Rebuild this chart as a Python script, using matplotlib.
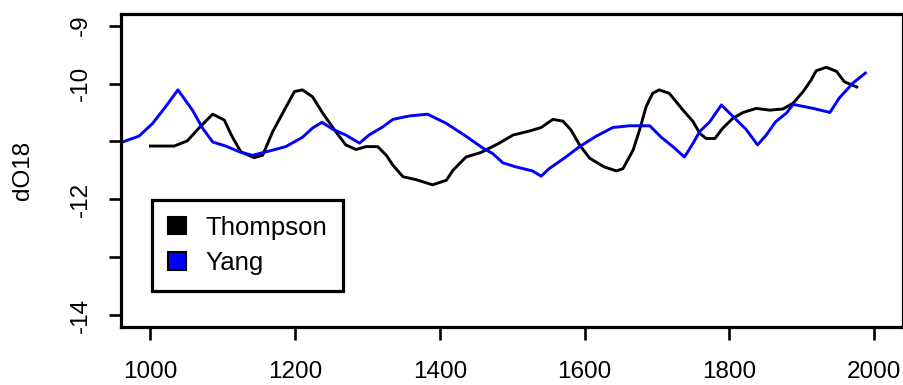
import matplotlib.pyplot as plt
from matplotlib.patches import Patch

plt.rcParams['font.family'] = ['Liberation Sans', 'DejaVu Sans']

# Thompson record (years, dO18)
thompson_years = [1000, 1033, 1051, 1067, 1086, 1102, 1113, 1125, 1143, 1155, 1169, 1185,
                  1199, 1210, 1224, 1238, 1256, 1270, 1284, 1298, 1314, 1326, 1335, 1349,
                  1367, 1390, 1409, 1418, 1436, 1457, 1482, 1501, 1524, 1540, 1556, 1570,
                  1581, 1593, 1607, 1627, 1644, 1653, 1667, 1676, 1685, 1694, 1703, 1717,
                  1736, 1750, 1759, 1768, 1780, 1791, 1805, 1819, 1837, 1856, 1874, 1888,
                  1902, 1913, 1920, 1934, 1948, 1959, 1976]
thompson_d18o = [-11.08, -11.08, -10.99, -10.77, -10.53, -10.63, -10.92, -11.18, -11.28, -11.24,
                 -10.83, -10.46, -10.14, -10.11, -10.23, -10.51, -10.83, -11.06, -11.14, -11.09,
                 -11.09, -11.24, -11.41, -11.61, -11.66, -11.75, -11.67, -11.50, -11.27, -11.19,
                 -11.03, -10.89, -10.82, -10.76, -10.62, -10.65, -10.80, -11.06, -11.29, -11.44,
                 -11.51, -11.47, -11.15, -10.80, -10.40, -10.17, -10.11, -10.17, -10.46, -10.66,
                 -10.86, -10.95, -10.95, -10.77, -10.60, -10.50, -10.43, -10.46, -10.44, -10.34,
                 -10.14, -9.94, -9.78, -9.72, -9.79, -9.97, -10.06]

# Yang record
yang_years = [959, 984, 1003, 1021, 1038, 1058, 1072, 1086, 1104, 1123, 1141, 1160, 1187,
              1210, 1224, 1237, 1252, 1270, 1289, 1302, 1321, 1335, 1358, 1383, 1409, 1436,
              1460, 1473, 1487, 1505, 1528, 1540, 1551, 1574, 1593, 1616, 1639, 1662, 1690,
              1706, 1722, 1738, 1750, 1759, 1773, 1789, 1805, 1823, 1839, 1851, 1864, 1879,
              1888, 1916, 1939, 1952, 1971, 1988]
yang_d18o = [-11.02, -10.91, -10.69, -10.40, -10.11, -10.46, -10.77, -11.01, -11.08, -11.18,
             -11.24, -11.18, -11.09, -10.93, -10.77, -10.67, -10.79, -10.89, -11.03, -10.89,
             -10.75, -10.62, -10.56, -10.53, -10.69, -10.91, -11.12, -11.21, -11.37, -11.44,
             -11.51, -11.60, -11.47, -11.27, -11.09, -10.91, -10.76, -10.73, -10.73, -10.93,
             -11.09, -11.27, -11.03, -10.83, -10.66, -10.37, -10.57, -10.79, -11.06, -10.89,
             -10.66, -10.51, -10.36, -10.43, -10.50, -10.25, -9.99, -9.82]

x_ticks = [1000, 1200, 1400, 1600, 1800, 2000]
y_ticks = [-14, -13, -12, -11, -10, -9]
y_tick_labels = ['-14', '', '-12', '', '-10', '-9']

fig = plt.figure(figsize=(9.04, 3.85), dpi=100)
ax = fig.add_axes([0.1344, 0.1514, 0.8645, 0.8122])

ax.plot(thompson_years, thompson_d18o, color='black', lw=2.1)
ax.plot(yang_years, yang_d18o, color='#0000ff', lw=2.1)

ax.set_xlim(960, 2040)
ax.set_ylim(-14.2, -8.8)
ax.set_xticks(x_ticks)
ax.set_xticklabels([str(t) for t in x_ticks])
ax.set_yticks(y_ticks)
ax.set_yticklabels(y_tick_labels, rotation=90, va='center')
ax.tick_params(axis='both', labelsize=17.5, length=9, width=1.9, direction='out')
ax.tick_params(axis='x', pad=16)
ax.tick_params(axis='y', pad=12)
for sp in ax.spines.values():
    sp.set_linewidth(2.3)

ax.set_ylabel('dO18', fontsize=17.5, labelpad=26)

handles = [Patch(facecolor='black', edgecolor='black', lw=1.5),
           Patch(facecolor='#0000ff', edgecolor='black', lw=1.5)]
leg = ax.legend(handles, ['Thompson', 'Yang'], loc='lower left',
                bbox_to_anchor=(0.039, 0.114), fontsize=18.5, frameon=True,
                fancybox=False, framealpha=1, edgecolor='black',
                handlelength=0.72, handleheight=0.68, handletextpad=0.75,
                borderpad=0.62, labelspacing=0.45, borderaxespad=0)
leg.get_frame().set_linewidth(2.3)

fig.savefig('out.png', dpi=100)
